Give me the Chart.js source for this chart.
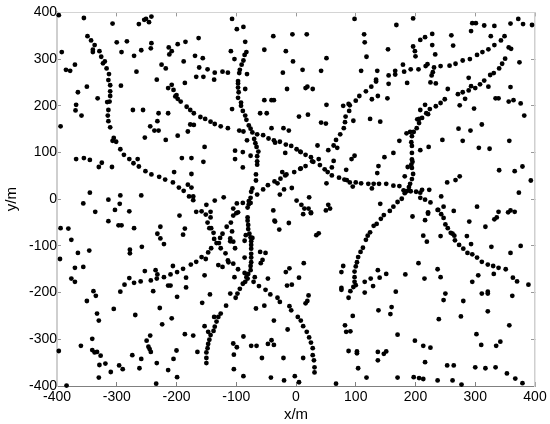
<!DOCTYPE html>
<html>
<head>
<meta charset="utf-8">
<style>
  html, body { margin: 0; padding: 0; background: #fff; }
  canvas { display: block; }
</style>
<script src="https://cdn.jsdelivr.net/npm/chart.js@4/dist/chart.umd.min.js"></script>
</head>
<body>
<canvas id="myChart" width="550" height="424"></canvas>
<script>
// metres
const xTicks = [-400, -300, -200, -100, 0, 100, 200, 300, 400];
const yTicks = [-400, -300, -200, -100, 0, 100, 200, 300, 400];

const upperLeft = [[-397,394],[-355,388],[-307,376],[-263,375],[-254,384],[-251,386],[-246,379],[-242,391],[-107,386],[-99,364],[-88,369],[-85,337],
[-349,349],[-343,340],[-337,330],[-340,320],[-340,315],[-329,317],[-326,305],[-320,295],[-323,291],[-317,280],[-313,268],[-314,255],[-311,244],[-311,231],[-311,221],[-312,209],[-316,208],[-314,191],[-315,179],[-314,167],[-311,154],[-305,131],[-307,125],[-301,123],[-294,107],[-288,95],[-279,86],[-272,77],[-265,86],[-263,70],[-252,60],[-242,53],[-229,48],[-219,42],[-206,36],[-196,25],[-188,18],[-181,31],[-175,25],[-179,6],[-172,6],[-172,-2],
[-392,315],[-385,277],[-378,275],[-370,288],[-365,229],[-350,241],[-332,216],[-368,202],[-369,190],[-359,179],[-394,156],[-300,336],[-283,338],[-292,315],[-293,243],[-271,307],[-259,319],[-243,323],[-242,334],[-267,273],[-273,191],[-256,191],[-230,184],[-232,167],[-214,184],[-244,156],[-237,147],[-230,147],[-253,132],[-218,127],[-198,136],[-181,145],[-177,160],[-171,159],[-225,288],[-218,280],[-233,256],[-213,325],[-208,317],[-212,310],[-198,332],[-185,337],[-163,345],[-188,295],[-169,307],[-156,302],[-162,282],[-148,278],[-167,262],[-155,262],[-136,271],[-137,256],[-123,273],[-114,271],[-186,249],
[-208,245],[-214,238],[-205,234],[-200,223],[-202,220],[-198,215],[-193,209],[-183,198],[-177,191],[-171,184],[-160,176],[-152,172],[-143,166],[-136,161],[-126,156],[-114,152],[-95,147],[-88,145],[-82,126],[-153,112],[-109,317],[-103,300],
[-83,315],[-86,309],[-88,297],[-91,288],[-94,277],[-95,270],[-82,268],[-97,253],[-97,248],[-97,239],[-85,236],[-96,229],[-97,217],[-92,207],[-92,200],[-107,193],[-89,189],[-85,179],[-83,170],[-79,158],[-76,151],[-73,143],[-70,129],[-68,120],[-66,112],[-63,102],[-65,92],[-65,81],[-65,74],[-67,53],[-67,40],[-73,23],[-75,16],[-76,3],
[-38,349],[-6,353],[-53,320],[-17,317],[-5,295],[-22,271],[-15,236],[-53,212],[-41,212],[-37,212],[-60,184],[-49,184],[5,177],[-41,152],[-21,152],[-12,147],
[-65,139],[-55,137],[-46,130],[-37,126],[-35,121],[-27,123],[-17,117],[-8,114],[1,107],[7,102],[-102,104],[-89,101],[-76,93],[-102,86],[-89,68],[-18,99],
[-191,88],[-175,88],[-155,80],[-204,58],[-175,54],[-368,86],[-355,88],[-345,84],[-325,78],[-330,69],[-308,69],[-345,14],[-356,-9],[-314,-1],[-294,8],[-295,-10],[-259,8],[-303,-23],[-279,-26],[-336,-27],
[-121,4],[-136,-3],[-150,-12],[-158,-26],[-167,-27],[-143,-27],[-99,-9],[-105,-20],[-65,10],[-55,21],[-47,30],[-36,38],[-31,34],[-26,44],[-18,51],[-23,58],[-16,53],[-3,58],[7,65],[-7,24],[-20,21],[-27,10],[-38,-24],[1,-3],[-89,-8],[-79,-4],[-79,-11],[-76,-8],[-81,-18]];

const upperRight = [[98,386],[196,387],[168,373],[295,377],[301,377],[293,360],[315,372],[332,371],[359,376],[372,386],[380,375],[395,373],[18,353],[114,353],[115,336],[51,302],[118,305],[154,321],[196,327],[199,317],[200,306],[208,341],[216,347],[228,354],[228,330],[233,310],[260,351],[263,329],[326,349],
[11,277],[42,275],[109,275],[136,275],[16,238],[19,241],[28,236],[51,202],[20,181],[42,164],[50,162],
[8,101],[16,95],[25,90],[29,80],[38,86],[40,73],[48,64],[53,58],[60,51],[72,46],[81,42],[85,41],[90,36],[95,27],[100,36],[109,34],[121,33],[127,23],[130,33],[139,33],[151,33],[163,29],[173,28],[180,19],[182,13],[185,17],[189,19],[192,17],
[201,16],[208,14],[211,20],[208,3],[223,20],[216,-1],[225,-7],[243,6],[238,-23],[247,-16],[264,-25],[303,-16],[339,-27],[359,-24],[366,-27],[221,-28],[373,14],[393,40],[379,70],[366,60],[340,62],[274,49],[267,41],[253,36],
[8,66],[16,71],[27,81],[36,115],[54,105],[63,115],[69,110],[67,127],[74,139],[80,152],[82,165],[83,177],[89,189],[90,201],[79,200],[88,204],[100,211],[106,221],[117,231],[126,241],[134,252],[134,256],[155,265],[166,267],[166,275],[155,247],[181,273],[192,278],[205,278],[179,288],[217,285],[220,289],[231,282],[242,285],[257,286],[267,290],[279,297],[291,300],[303,309],[312,315],[322,321],[332,330],[343,340],[349,349],[356,325],[360,322],[374,293],
[350,301],[345,290],[340,280],[331,270],[325,266],[315,254],[308,246],[300,238],[293,242],[289,233],[279,229],[271,225],[283,215],[289,260],[322,241],[359,240],[334,216],[339,216],[356,209],[364,212],[376,205],[382,179],[298,194],[274,201],[249,214],[242,206],[234,199],[224,193],[221,182],[218,184],[216,202],[208,191],[211,174],[206,172],[203,171],[206,163],[202,152],[197,144],[191,144],[185,141],[194,135],[173,125],[193,122],[194,114],[194,99],[194,85],[195,80],[193,74],[187,69],[194,67],[196,54],[182,49],[194,43],[191,33],[189,26],
[208,105],[222,112],[245,127],[279,125],[306,110],[324,108],[357,125],[272,151],[292,147],[311,160],[225,250],[234,248],[254,236],[186,249],[227,265],[229,272],[124,172],[141,166],[96,168],[127,214],[137,221],[153,216],[163,99],[148,90],[138,71],[136,56],[98,93],[93,86],[84,63],[60,68],[63,82],[51,34],
[9,-12],[22,4],[14,-20],[21,-20],[25,-28],[54,-12],[50,-24],[57,-20],[141,-10],[177,1],[170,-6]];

const lowerLeft = [[-394,-62],[-381,-63],[-376,-87],[-365,-115],[-346,-110],[-395,-128],[-370,-147],[-356,-145],[-376,-170],[-370,-177],[-314,-47],[-297,-56],[-292,-56],[-271,-62],[-258,-102],[-278,-108],[-278,-116],[-227,-59],[-232,-74],[-227,-84],[-221,-96],[-195,-35],[-186,-63],[-189,-76],
[-151,-33],[-143,-39],[-148,-50],[-145,-62],[-142,-62],[-138,-72],[-137,-85],[-133,-94],[-129,-94],[-127,-83],[-123,-74],[-126,-105],[-118,-116],[-116,-59],[-109,-50],[-107,-69],[-105,-35],[-100,-30],[-97,-28],[-110,-84],[-110,-90],[-105,-91],[-102,-105],[-86,-89],[-84,-77],
[-81,-39],[-81,-46],[-80,-55],[-80,-64],[-78,-74],[-76,-82],[-73,-83],[-75,-90],[-75,-98],[-75,-106],[-75,-117],[-75,-125],[-75,-135],[-76,-143],[-76,-152],[-80,-160],[-81,-170],[-86,-125],[-86,-158],[-83,-167],[-85,-177],[-89,-181],[-94,-192],[-98,-202],[-101,-211],[-110,-202],[-117,-228],[-126,-245],[-130,-252],[-137,-252],[-133,-262],[-136,-273],[-138,-282],[-143,-291],[-145,-301],[-147,-310],[-148,-319],[-150,-328],[-150,-340],[-150,-351],[-153,-272],[-147,-284],[-144,-204],[-157,-222],[-153,-163],[-130,-141],[-123,-145],[-114,-131],[-113,-135],[-105,-138],[-97,-150],[-103,-167],[-71,-177],[-69,-167],[-59,-137],[-56,-130],[-60,-113],[-51,-115],[-47,-170],[-62,-186],[-51,-194],[-43,-204],[-31,-211],[-27,-220],[-11,-229],[-8,-238],[3,-252],
[-36,-46],[-35,-48],[-28,-65],[-12,-51],[-17,-156],[-11,-148],[-15,-185],[-7,-183],[5,-168],[-53,-228],[-67,-234],[-37,-260],[-14,-279],
[-142,-105],[-147,-114],[-158,-124],[-151,-128],[-167,-134],[-176,-140],[-189,-149],[-199,-156],[-206,-143],[-210,-161],[-221,-167],[-232,-161],[-235,-152],[-243,-174],[-233,-170],[-253,-154],[-260,-176],[-271,-179],[-279,-169],[-287,-183],[-294,-198],[-339,-197],[-335,-207],[-350,-218],[-305,-235],[-333,-245],[-330,-260],[-269,-248],[-239,-197],[-228,-233],[-214,-185],[-210,-185],[-199,-209],[-184,-168],[-184,-189],[-224,-268],[-208,-255],[-186,-289],[-172,-292],
[-244,-292],[-250,-303],[-247,-316],[-245,-321],[-243,-327],[-200,-324],[-165,-327],[-205,-342],[-233,-351],[-214,-366],[-199,-381],[-234,-395],[-259,-342],[-274,-334],[-262,-362],[-296,-356],[-290,-364],[-310,-370],[-319,-352],[-329,-355],[-330,-382],[-327,-335],[-333,-327],[-337,-328],[-341,-323],[-341,-299],[-360,-314],[-397,-325],[-384,-399],
[-88,-294],[-105,-309],[-99,-317],[-104,-333],[-104,-364],[-88,-379],[-75,-314],[-66,-314],[-57,-340],[-42,-382],[-20,-388],[-2,-379],[5,-392],[-21,-340],[-47,-310],[-41,-302],[-37,-312]];

const lowerRight = [[12,-32],[25,-30],[34,-77],[38,-73],
[163,-16],[157,-25],[147,-34],[142,-42],[135,-53],[130,-57],[124,-71],[120,-78],[117,-87],[112,-104],[108,-113],[104,-124],[102,-135],[100,-144],[98,-155],[98,-167],[98,-177],[100,-184],[96,-188],[91,-197],[88,-211],[76,-156],[79,-143],[76,-190],[76,-194],[115,-177],[125,-170],[115,-200],[129,-186],[137,-152],[140,-168],[151,-160],[183,-161],[167,-198],[205,-137],[215,-170],[237,-150],[242,-167],[250,-202],[247,-216],[280,-218],[295,-177],[305,-163],[311,-202],[321,-198],[321,-202],[362,-207],[389,-183],[370,-176],[363,-168],[351,-150],[339,-147],[330,-143],[321,-140],[331,-160],[311,-134],[303,-125],[295,-118],[287,-115],[280,-106],[273,-98],[266,-88],[265,-78],[262,-74],[259,-72],[254,-62],[250,-54],[247,-40],[243,-32],[237,-23],[221,-31],[216,-45],[195,-37],[213,-78],[219,-91],[242,-79],[286,-79],[293,-96],[290,-48],[317,-59],[327,-102],[359,-115],[376,-100],[332,-43],[336,-39],[355,-28],
[138,-238],[160,-231],[158,-246],[95,-250],[82,-270],[84,-284],[91,-283],[170,-290],[199,-303],[213,-314],[225,-318],[216,-349],[253,-356],[264,-356],[239,-257],[276,-251],[302,-289],[310,-312],[321,-240],[357,-270],[335,-314],[342,-305],[300,-360],[317,-362],[334,-360],[353,-373],[367,-384],[379,-394],[277,-397],[262,-388],[237,-388],[213,-385],[206,-383],[197,-381],[170,-382],[118,-382],[104,-362],[67,-395],[88,-325],[102,-326],[102,-330],[137,-327],[137,-345],[147,-331],[151,-326],
[8,-260],[12,-272],[18,-284],[22,-296],[25,-307],[28,-319],[28,-334],[30,-345],[31,-360],[31,-371],[12,-340],[13,-137],[21,-206],[19,-218],[16,-223]];

const allPoints = [...upperLeft, ...upperRight, ...lowerLeft, ...lowerRight].map(p => ({x: p[0], y: p[1]}));

const tickFont = {family: '"Liberation Sans", Arial, sans-serif', size: 14};

// ticks point inwards like the original, top and right axes only carry the ticks
function fixedTicks(list) {
    return axis => { axis.ticks = list.map(v => ({value: v})); };
}

new Chart(document.getElementById('myChart').getContext('2d'), {
    type: 'scatter',
    data: {
        datasets: [{
            label: 'points',
            data: allPoints,
            backgroundColor: '#000',
            borderColor: '#000',
            pointRadius: 2.4,
            pointBorderWidth: 0,
            clip: false
        }]
    },
    options: {
        responsive: false,
        animation: false,
        layout: {padding: {left: 0, right: 15, top: 11, bottom: 0}},
        plugins: {legend: {display: false}, tooltip: {enabled: false}},
        scales: {
            x: {
                type: 'linear', position: 'bottom', min: -400, max: 400,
                afterBuildTicks: fixedTicks(xTicks),
                // tick padding would otherwise eat into the right margin
                afterFit: axis => { axis.height = 38; axis.paddingRight = 0; axis.paddingLeft = 0; },
                border: {color: '#808080', width: 1},
                grid: {drawOnChartArea: false, drawTicks: true, tickLength: -4, color: '#808080'},
                ticks: {font: tickFont, color: '#000', padding: 7, maxRotation: 0, autoSkip: false},
                title: {display: true, text: 'x/m', font: {family: tickFont.family, size: 15}, color: '#000', padding: {top: 0, bottom: 0}}
            },
            y: {
                type: 'linear', position: 'left', min: -400, max: 400,
                afterBuildTicks: fixedTicks(yTicks),
                afterFit: axis => { axis.width = 57; },
                border: {color: '#cfcfcf', width: 2},
                grid: {drawOnChartArea: false, drawTicks: true, tickLength: -4, color: '#999'},
                ticks: {font: tickFont, color: '#000', padding: 4, autoSkip: false},
                title: {display: true, text: 'y/m', font: {family: tickFont.family, size: 15}, color: '#000', padding: {top: 3, bottom: 0}}
            },
            xTop: {
                type: 'linear', position: 'top', min: -400, max: 400,
                afterBuildTicks: fixedTicks(xTicks),
                afterFit: axis => { axis.height = 0; axis.paddingRight = 0; axis.paddingLeft = 0; },
                border: {color: '#d4d4d4', width: 1},
                grid: {drawOnChartArea: false, drawTicks: true, tickLength: -4, color: '#999'},
                ticks: {display: false}
            },
            yRight: {
                type: 'linear', position: 'right', min: -400, max: 400,
                afterBuildTicks: fixedTicks(yTicks),
                afterFit: axis => { axis.width = 0; },
                border: {color: '#cfcfcf', width: 1.5},
                grid: {drawOnChartArea: false, drawTicks: true, tickLength: -4, color: '#999'},
                ticks: {display: false}
            }
        }
    }
});
</script>
</body>
</html>
